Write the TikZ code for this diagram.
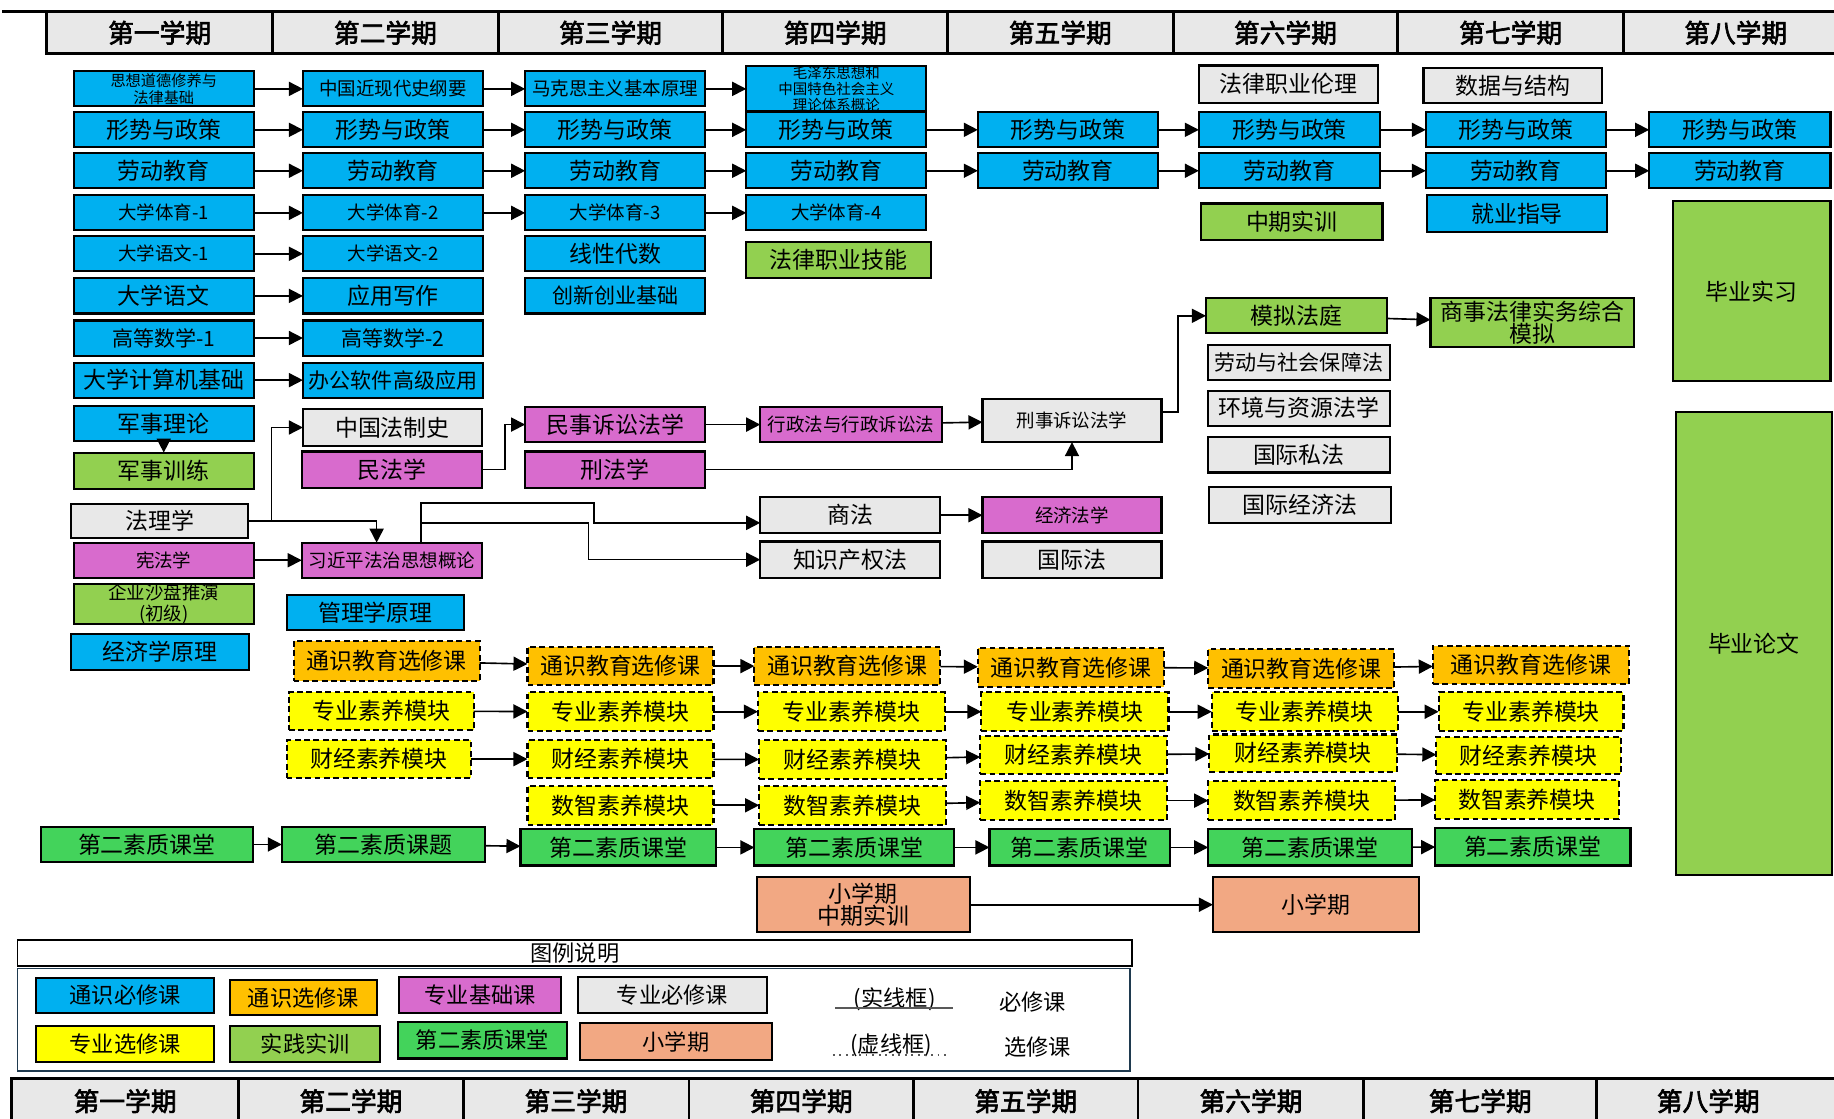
\documentclass[tikz,border=0pt]{standalone}
\usepackage{fontspec}
\setmainfont{Noto Sans CJK SC}
\newfontfamily\hdfont[FakeBold=2.5]{Noto Sans CJK SC}
\usetikzlibrary{arrows.meta}
\definecolor{cBlue}{HTML}{00B0F0}
\definecolor{cOrange}{HTML}{FFC000}
\definecolor{cMag}{HTML}{D86BCD}
\definecolor{cGray}{HTML}{E8E8E8}
\definecolor{cYel}{HTML}{FFFF00}
\definecolor{cGreen}{HTML}{92D050}
\definecolor{cBright}{HTML}{43D35B}
\definecolor{cSalmon}{HTML}{F2A883}
\definecolor{cFrame}{HTML}{1F3A4F}
\newcommand\bx[7]{\node[box,#6,minimum width={(#4-#2)*0.5pt},minimum height={(#5-#3)*0.5pt}] (#1) at ({(#2+#4)/2},{(#3+#5)/2}) {#7};}
\tikzset{
  box/.style={draw=black,line width=0.9pt,inner sep=0pt,outer sep=0pt,align=center,font=\fontsize{9.8}{11}\selectfont},
  bl/.style={fill=cBlue},
  og/.style={fill=cOrange},
  mg/.style={fill=cMag},
  gy/.style={fill=cGray},
  ye/.style={fill=cYel},
  gr/.style={fill=cGreen},
  bg/.style={fill=cBright},
  sa/.style={fill=cSalmon},
  dsh/.style={dash pattern=on 2.5pt off 1.5pt},
  hd/.style={draw=black,line width=1.2pt,fill=cGray,inner sep=0pt,font=\hdfont\fontsize{11}{12}\selectfont},
  f9/.style={font=\fontsize{9}{10}\selectfont},
  f8/.style={font=\fontsize{7.9}{9}\selectfont},
  f75/.style={font=\fontsize{7.9}{8.8}\selectfont},
  f65/.style={font=\fontsize{6.5}{7.2}\selectfont},
  f6/.style={font=\fontsize{6.2}{4.7}\selectfont},
  arr/.style={-{Triangle[length=6pt,width=6pt]},line width=0.7pt},
  lg/.style={font=\fontsize{9.5}{11}\selectfont},
}
\begin{document}
\begin{tikzpicture}[x=0.5pt,y=-0.5pt]
\useasboundingbox (0,0) rectangle (1568,956);
% top header
\draw[line width=1.2pt] (2,10) -- (1568,10);
\bx{h1}{40}{10}{233}{46}{hd}{第一学期}
\bx{h2}{233}{10}{426}{46}{hd}{第二学期}
\bx{h3}{426}{10}{618}{46}{hd}{第三学期}
\bx{h4}{618}{10}{810}{46}{hd}{第四学期}
\bx{h5}{810}{10}{1003}{46}{hd}{第五学期}
\bx{h6}{1003}{10}{1195}{46}{hd}{第六学期}
\bx{h7}{1195}{10}{1388}{46}{hd}{第七学期}
\bx{h8}{1388}{10}{1580}{46}{hd}{第八学期}
% column 1
\bx{a1}{63}{61}{217}{91}{bl,f65}{思想道德修养与\\法律基础}
\bx{a2}{63}{96}{217}{126}{bl}{形势与政策}
\bx{a3}{63}{131}{217}{161}{bl}{劳动教育}
\bx{a4}{63}{167}{217}{197}{bl,f75}{大学体育-1}
\bx{a5}{63}{202}{217}{232}{bl,f75}{大学语文-1}
\bx{a6}{63}{238}{217}{268}{bl}{大学语文}
\bx{a7}{63}{274}{217}{304}{bl,f9}{高等数学-1}
\bx{a8}{63}{310}{217}{340}{bl}{大学计算机基础}
\bx{a9}{63}{347}{217}{377}{bl}{军事理论}
\bx{a10}{63}{387}{217}{418}{gr}{军事训练}
\bx{fl}{61}{431}{212}{460}{gy}{法理学}
\bx{xfa}{63}{464}{217}{494}{mg,f75}{宪法学}
\bx{qy}{63}{500}{217}{533}{gr,f75}{企业沙盘推演\\(初级)}
\bx{jjx}{61}{542}{213}{573}{bl}{经济学原理}
% column 2
\bx{b1}{259}{61}{413}{91}{bl,f8}{中国近现代史纲要}
\bx{b2}{259}{96}{413}{126}{bl}{形势与政策}
\bx{b3}{259}{131}{413}{161}{bl}{劳动教育}
\bx{b4}{259}{167}{413}{197}{bl,f75}{大学体育-2}
\bx{b5}{259}{202}{413}{232}{bl,f75}{大学语文-2}
\bx{b6}{259}{238}{413}{268}{bl}{应用写作}
\bx{b7}{259}{274}{413}{304}{bl,f9}{高等数学-2}
\bx{b8}{259}{310}{413}{340}{bl,f9}{办公软件高级应用}
\bx{zgf}{259}{350}{412}{381}{gy}{中国法制史}
\bx{mfx}{258}{386}{412}{417}{mg}{民法学}
\bx{xjp}{258}{464}{412}{494}{mg,f8}{习近平法治思想概论}
\bx{glx}{245}{509}{397}{539}{bl}{管理学原理}
% column 3
\bx{c1}{449}{61}{603}{91}{bl,f8}{马克思主义基本原理}
\bx{c2}{449}{96}{603}{126}{bl}{形势与政策}
\bx{c3}{449}{131}{603}{161}{bl}{劳动教育}
\bx{c4}{449}{167}{603}{197}{bl,f75}{大学体育-3}
\bx{c5}{449}{202}{603}{232}{bl}{线性代数}
\bx{c6}{449}{238}{603}{268}{bl,f9}{创新创业基础}
\bx{msss}{449}{348}{603}{378}{mg}{民事诉讼法学}
\bx{xfx}{449}{386}{603}{417}{mg}{刑法学}
% column 4
\bx{d1}{638}{61}{792}{91}{bl,f6}{毛泽东思想和\\中国特色社会主义\\理论体系概论}
\bx{d2}{638}{96}{792}{126}{bl}{形势与政策}
\bx{d3}{638}{131}{792}{161}{bl}{劳动教育}
\bx{d4}{638}{167}{792}{197}{bl,f75}{大学体育-4}
\bx{fzjn}{638}{207}{796}{238}{gr}{法律职业技能}
\bx{xzf}{650}{348}{805}{378}{mg,f8}{行政法与行政诉讼法}
\bx{shf}{650}{425}{804}{456}{gy}{商法}
\bx{zscq}{650}{463}{804}{494}{gy}{知识产权法}
% column 5
\bx{e2}{836}{96}{990}{126}{bl}{形势与政策}
\bx{e3}{836}{131}{990}{161}{bl}{劳动教育}
\bx{xsss}{840}{341}{993}{378}{gy,f8}{刑事诉讼法学}
\bx{jjfx}{840}{425}{993}{456}{mg,f8}{经济法学}
\bx{gjf}{840}{463}{993}{494}{gy}{国际法}
% column 6
\bx{flzy}{1025}{56}{1178}{88}{gy}{法律职业伦理}
\bx{f2}{1025}{96}{1180}{126}{bl}{形势与政策}
\bx{f3}{1025}{131}{1180}{161}{bl}{劳动教育}
\bx{zqsx}{1027}{174}{1182}{205}{gr}{中期实训}
\bx{mnft}{1031}{255}{1186}{285}{gr}{模拟法庭}
\bx{ldsb}{1033}{295}{1188}{325}{gy,f9}{劳动与社会保障法}
\bx{hjzy}{1033}{334}{1188}{364}{gy}{环境与资源法学}
\bx{gjsf}{1033}{374}{1188}{404}{gy}{国际私法}
\bx{gjjj}{1034}{416}{1189}{447}{gy}{国际经济法}
% column 7
\bx{sjjg}{1217}{58}{1370}{88}{gy}{数据与结构}
\bx{g2}{1219}{96}{1373}{126}{bl}{形势与政策}
\bx{g3}{1219}{131}{1373}{161}{bl}{劳动教育}
\bx{jyzd}{1220}{167}{1374}{198}{bl}{就业指导}
\bx{ssfl}{1223}{255}{1397}{297}{gr,font=\fontsize{9.8}{9.5}\selectfont}{商事法律实务综合\\模拟}
% column 8
\bx{k2}{1410}{96}{1565}{126}{bl}{形势与政策}
\bx{k3}{1410}{131}{1565}{161}{bl}{劳动教育}
\bx{bysx}{1430}{172}{1565}{326}{gr}{毕业实习}
\bx{bylw}{1433}{352}{1566}{748}{gr}{毕业论文}
% electives: general
\bx{o2}{251}{548}{410}{582}{og,dsh}{通识教育选修课}
\bx{o3}{451}{553}{610}{586}{og,dsh}{通识教育选修课}
\bx{o4}{645}{553}{804}{586}{og,dsh}{通识教育选修课}
\bx{o5}{836}{554}{995}{587}{og,dsh}{通识教育选修课}
\bx{o6}{1033}{555}{1192}{588}{og,dsh}{通识教育选修课}
\bx{o7}{1225}{552}{1393}{585}{og,dsh}{通识教育选修课}
% professional module
\bx{p2}{247}{592}{405}{624}{ye,dsh}{专业素养模块}
\bx{p3}{451}{592}{610}{625}{ye,dsh}{专业素养模块}
\bx{p4}{648}{592}{808}{625}{ye,dsh}{专业素养模块}
\bx{p5}{839}{592}{999}{625}{ye,dsh}{专业素养模块}
\bx{p6}{1036}{592}{1195}{625}{ye,dsh}{专业素养模块}
\bx{p7}{1230}{592}{1388}{625}{ye,dsh}{专业素养模块}
% finance module
\bx{q2}{245}{633}{403}{665}{ye,dsh}{财经素养模块}
\bx{q3}{451}{633}{610}{665}{ye,dsh}{财经素养模块}
\bx{q4}{649}{633}{809}{666}{ye,dsh}{财经素养模块}
\bx{q5}{838}{629}{998}{662}{ye,dsh}{财经素养模块}
\bx{q6}{1034}{628}{1194}{660}{ye,dsh}{财经素养模块}
\bx{q7}{1228}{630}{1386}{662}{ye,dsh}{财经素养模块}
% digital module
\bx{s3}{451}{672}{610}{705}{ye,dsh}{数智素养模块}
\bx{s4}{649}{672}{809}{705}{ye,dsh}{数智素养模块}
\bx{s5}{838}{668}{998}{701}{ye,dsh}{数智素养模块}
\bx{s6}{1033}{668}{1193}{701}{ye,dsh}{数智素养模块}
\bx{s7}{1227}{667}{1384}{700}{ye,dsh}{数智素养模块}
% second classroom
\bx{t1}{35}{707}{216}{737}{bg}{第二素质课堂}
\bx{t2}{241}{707}{415}{737}{bg}{第二素质课题}
\bx{t3}{445}{709}{612}{740}{bg}{第二素质课堂}
\bx{t4}{645}{709}{816}{740}{bg}{第二素质课堂}
\bx{t5}{846}{709}{1000}{740}{bg}{第二素质课堂}
\bx{t6}{1033}{709}{1207}{740}{bg}{第二素质课堂}
\bx{t7}{1227}{708}{1394}{740}{bg}{第二素质课堂}
% short terms
\bx{xq1}{647}{750}{829}{797}{sa,font=\fontsize{9.8}{9.2}\selectfont}{小学期\\中期实训}
\bx{xq2}{1037}{750}{1213}{797}{sa}{小学期}
% row arrows
\foreach \u/\v in {a1/b1,a2/b2,a3/b3,a4/b4,a5/b5,a6/b6,a7/b7,a8/b8,
  b1/c1,b2/c2,b3/c3,b4/c4,c1/d1,c2/d2,c3/d3,c4/d4,d2/e2,d3/e3,e2/f2,e3/f3,
  f2/g2,f3/g3,g2/k2,g3/k3,xfa/xjp,msss/xzf,xzf/xsss,mnft/ssfl,shf/jjfx,xq1/xq2,
  o2/o3,o3/o4,o4/o5,o5/o6,o6/o7,p2/p3,p3/p4,p4/p5,p5/p6,p6/p7,
  q2/q3,q3/q4,q4/q5,q5/q6,q6/q7,s3/s4,s4/s5,s5/s6,s6/s7,
  t1/t2,t2/t3,t3/t4,t4/t5,t5/t6,t6/t7}
  {\draw[arr] (\u) -- (\v);}
\draw[arr] (a9) -- (a10);
% bent connectors
\draw[arr] (fl.east) -- ++(20,0) |- (zgf.west);
\draw[arr] (fl.east) -| ([xshift=-6.5pt]xjp.north);
\draw[arr] (mfx.east) -- ++(20,0) |- (msss.west);
\draw[arr] (xfx.east) -| (xsss.south);
\draw[arr] ([yshift=3.5pt]xsss.east) -- ++(14,0) |- (mnft.west);
\coordinate (ja) at (508,430);
\coordinate (jb) at (360,447);
\coordinate (jc) at (503,447);
\draw[arr] ([xshift=12.5pt]xjp.north) |- (ja) |- ([yshift=-3.25pt]shf.west);
\draw[arr] (jb) -- (jc) |- (zscq.west);
% legend
\bx{lgt}{15}{804}{968}{826}{lg,line width=0.8pt}{图例说明}
\draw[draw=cFrame,line width=0.8pt] (15,828) rectangle (966,916);
\bx{l1}{31}{836}{183}{866}{bl,lg}{通识必修课}
\bx{l2}{197}{838}{322}{868}{og,lg}{通识选修课}
\bx{l3}{341}{835}{480}{866}{mg,lg}{专业基础课}
\bx{l4}{494}{835}{656}{866}{gy,lg}{专业必修课}
\bx{l5}{31}{877}{183}{908}{ye,lg}{专业选修课}
\bx{l6}{197}{877}{325}{908}{gr,lg}{实践实训}
\bx{l7}{340}{874}{485}{905}{bg,lg}{第二素质课堂}
\bx{l8}{496}{875}{660}{906}{sa,lg}{小学期}
\node[lg] (lsx) at (765,854) {(实线框)};
\node[lg] (lbx) at (883,857) {必修课};
\node[lg] (lxx) at (762,894) {(虚线框)};
\node[lg] (lxb) at (887,895) {选修课};
\draw[line width=0.8pt,gray!70!black] (714,862) -- (815,862);
\draw[line width=0.8pt,gray!70!black,dotted] (712,902) -- (812,902);
% bottom header
\bx{m1}{10}{922}{204}{965}{hd}{\raisebox{3pt}{第一学期}}
\bx{m2}{204}{922}{396}{965}{hd}{\raisebox{3pt}{第二学期}}
\bx{m3}{396}{922}{589}{965}{hd}{\raisebox{3pt}{第三学期}}
\bx{m4}{589}{922}{781}{965}{hd}{\raisebox{3pt}{第四学期}}
\bx{m5}{781}{922}{973}{965}{hd}{\raisebox{3pt}{第五学期}}
\bx{m6}{973}{922}{1166}{965}{hd}{\raisebox{3pt}{第六学期}}
\bx{m7}{1166}{922}{1365}{965}{hd}{\raisebox{3pt}{第七学期}}
\bx{m8}{1365}{922}{1580}{965}{hd}{\raisebox{3pt}{\hspace*{-12pt}第八学期}}
\end{tikzpicture}
\end{document}
